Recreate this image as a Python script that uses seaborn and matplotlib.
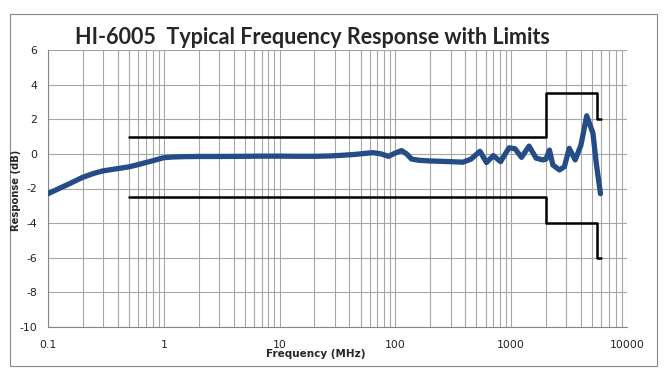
import matplotlib
matplotlib.use("Agg")
import matplotlib.pyplot as plt
import matplotlib.patches as patches
import seaborn as sns
import pandas as pd
import numpy as np

# Measured response
freq_mhz = [0.1, 0.15, 0.2, 0.25, 0.3, 0.4, 0.5, 0.6, 0.7, 0.8, 1.0, 1.2, 1.5, 2, 3, 5, 7,
            10, 15, 20, 27, 35, 45, 55, 64, 75, 87, 100, 113, 125, 138, 160, 200, 300,
            384, 450, 537, 612, 701, 810, 870, 960, 1078, 1227, 1425, 1643, 1875, 2000,
            2140, 2290, 2610, 2880, 3170, 3570, 4000, 4490, 5080, 5430, 5900]
response_db = [-2.3, -1.75, -1.35, -1.12, -0.98, -0.85, -0.75, -0.62, -0.5, -0.4, -0.22,
               -0.18, -0.16, -0.15, -0.15, -0.14, -0.13, -0.13, -0.14, -0.14, -0.12, -0.08,
               -0.03, 0.03, 0.07, 0.0, -0.14, 0.05, 0.19, 0.0, -0.3, -0.37, -0.41, -0.45,
               -0.48, -0.3, 0.15, -0.5, -0.1, -0.45, -0.1, 0.35, 0.3, -0.2, 0.45, -0.25,
               -0.35, -0.3, 0.22, -0.64, -0.93, -0.74, 0.32, -0.35, 0.5, 2.2, 1.2, -0.55,
               -2.3]

# Limit masks
upper_freq = [0.5, 2000, 2000, 5500, 5500, 6000]
upper_db = [1, 1, 3.5, 3.5, 2, 2]
lower_freq = [0.5, 2000, 2000, 5500, 5500, 6000]
lower_db = [-2.5, -2.5, -4, -4, -6, -6]

x_ticks = [0.1, 1, 10, 100, 1000, 10000]
x_tick_labels = ["0.1", "1", "10", "100", "1000", "10000"]
y_ticks = list(range(-10, 7, 2))

sns.set_style("white")
plt.rcParams['font.family'] = ['DejaVu Sans']
plt.rcParams['axes.unicode_minus'] = False

fig = plt.figure(figsize=(6.65, 3.78), dpi=100)
ax = fig.add_axes([48 / 665, 51 / 378, 579 / 665, 277 / 378])

df_resp = pd.DataFrame({'freq': freq_mhz, 'db': response_db})
df_up = pd.DataFrame({'freq': upper_freq, 'db': upper_db})
df_lo = pd.DataFrame({'freq': lower_freq, 'db': lower_db})

sns.lineplot(data=df_up, x='freq', y='db', sort=False, estimator=None,
             color='black', linewidth=1.8, ax=ax, zorder=3)
sns.lineplot(data=df_lo, x='freq', y='db', sort=False, estimator=None,
             color='black', linewidth=1.8, ax=ax, zorder=3)
sns.lineplot(data=df_resp, x='freq', y='db', sort=False, estimator=None,
             color='#244C86', linewidth=3.8, ax=ax, zorder=4)

ax.set_xscale('log')
ax.set_xlim(0.1, 10000)
ax.set_ylim(-10, 6)
ax.set_xticks(x_ticks)
ax.set_xticklabels(x_tick_labels)
ax.set_yticks(y_ticks)
ax.xaxis.set_minor_locator(matplotlib.ticker.LogLocator(base=10, subs=np.arange(2, 10)))
ax.xaxis.set_minor_formatter(matplotlib.ticker.NullFormatter())

ax.grid(True, which='major', axis='both', color='#a6a6a6', linewidth=0.8)
ax.grid(True, which='minor', axis='x', color='#a6a6a6', linewidth=0.8)
ax.set_axisbelow(True)

for s in ['top', 'right']:
    ax.spines[s].set_visible(False)
for s in ['left', 'bottom']:
    ax.spines[s].set_color('#868686')
    ax.spines[s].set_linewidth(0.8)

ax.tick_params(axis='both', which='major', direction='out', length=4, width=0.8,
               color='#868686', labelsize=7.8, labelcolor='#222222', pad=5)
ax.tick_params(axis='x', which='minor', length=0)
ax.tick_params(axis='y', which='major', pad=4)

ax.set_xlabel('')
ax.set_ylabel('')
fig.text(316 / 665, 1 - 354 / 378, 'Frequency (MHz)', ha='center', va='center',
         fontsize=7.5, fontweight='bold')
fig.text(16 / 665, 1 - 190 / 378, 'Response (dB)', ha='center', va='center',
         rotation=90, fontsize=7.2, fontweight='bold')
fig.text(312 / 665, 1 - 37 / 378, 'HI-6005  Typical Frequency Response with Limits',
         ha='center', va='center', fontsize=15.5, fontweight='bold', family=['Lato'])

fig.patches.append(patches.Rectangle((10 / 665, 12 / 378), 647 / 665, 352 / 378,
                                     transform=fig.transFigure, fill=False,
                                     edgecolor='#868686', linewidth=0.8))

fig.savefig('out.png', dpi=100)
